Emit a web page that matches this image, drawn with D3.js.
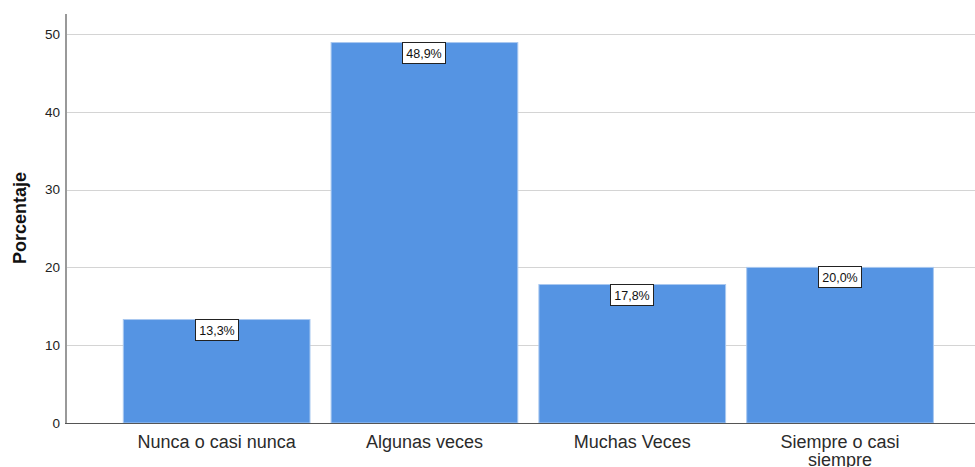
<!DOCTYPE html>
<html>
<head>
<meta charset="utf-8">
<script src="https://cdn.jsdelivr.net/npm/d3@7"></script>
<style>
  body { margin: 0; background: #fff; }
  svg { display: block; font-family: Arial, "Liberation Sans", sans-serif; }
</style>
</head>
<body>
<svg id="chart" width="975" height="467"></svg>
<script>
const categories = ["Nunca o casi nunca", "Algunas veces", "Muchas Veces", "Siempre o casi siempre"];
const values = [13.3, 48.9, 17.8, 20.0];
const labels = ["13,3%", "48,9%", "17,8%", "20,0%"];
const yTicks = [0, 10, 20, 30, 40, 50];

const svg = d3.select("#chart");
const axisX = 66, plotRight = 975, plotTop = 14;

const y = d3.scaleLinear().domain([0, 50]).range([423, 34]);
const x = d3.scaleBand().domain(categories).range([123.3, 933.4])
  .paddingInner(0.1015).paddingOuter(0);

// gridlines
svg.append("g").selectAll("line").data(yTicks.slice(1)).join("line")
  .attr("x1", axisX).attr("x2", plotRight)
  .attr("y1", d => Math.round(y(d)) + 0.5).attr("y2", d => Math.round(y(d)) + 0.5)
  .attr("stroke", "#d4d4d4").attr("stroke-width", 1);

// bars
svg.append("g").selectAll("rect").data(values).join("rect")
  .attr("x", (d, i) => x(categories[i]))
  .attr("width", x.bandwidth())
  .attr("y", d => y(d))
  .attr("height", d => y(0) - y(d))
  .attr("fill", "#5594e3")
  .attr("stroke", "#a9c8f0").attr("stroke-width", 1);

// y axis
const yAxis = svg.append("g").attr("transform", `translate(${axisX},0)`)
  .call(d3.axisLeft(y).tickValues(yTicks).tickSize(0).tickPadding(6));
yAxis.select(".domain").remove();
yAxis.selectAll(".tick text").attr("font-size", 13.5).attr("fill", "#222")
  .attr("font-family", "Arial, 'Liberation Sans', sans-serif");
svg.append("line").attr("x1", axisX).attr("x2", axisX).attr("y1", plotTop).attr("y2", y(0))
  .attr("stroke", "#999").attr("stroke-width", 2);

// baseline
svg.append("line").attr("x1", axisX - 1).attr("x2", plotRight).attr("y1", y(0) + 0.5).attr("y2", y(0) + 0.5)
  .attr("stroke", "#555").attr("stroke-width", 1);

// x category labels
const xl = svg.append("g").selectAll("text").data(categories).join("text")
  .attr("x", d => x(d) + x.bandwidth() / 2)
  .attr("y", 447.5)
  .attr("text-anchor", "middle")
  .attr("font-size", 18).attr("fill", "#2b2b2b");
xl.each(function(d) {
  const t = d3.select(this);
  if (d === "Siempre o casi siempre") {
    t.append("tspan").attr("x", t.attr("x")).text("Siempre o casi");
    t.append("tspan").attr("x", t.attr("x")).attr("dy", 18).text("siempre");
  } else t.text(d);
});

// value labels
const lg = svg.append("g").selectAll("g").data(values).join("g")
  .attr("transform", (d, i) => `translate(${Math.round(x(categories[i]) + x.bandwidth() / 2)},${Math.round(y(d))})`);
lg.append("rect").attr("x", -21.5).attr("y", -0.5).attr("width", 43).attr("height", 21)
  .attr("fill", "#fff").attr("stroke", "#222").attr("stroke-width", 1);
lg.append("text").text((d, i) => labels[i])
  .attr("y", 15).attr("text-anchor", "middle").attr("font-size", 12.5).attr("fill", "#111");

// y title
svg.append("text").attr("transform", "translate(26,218) rotate(-90)")
  .attr("text-anchor", "middle").attr("font-size", 18).attr("font-weight", "bold")
  .attr("fill", "#111").text("Porcentaje");
</script>
</body>
</html>
